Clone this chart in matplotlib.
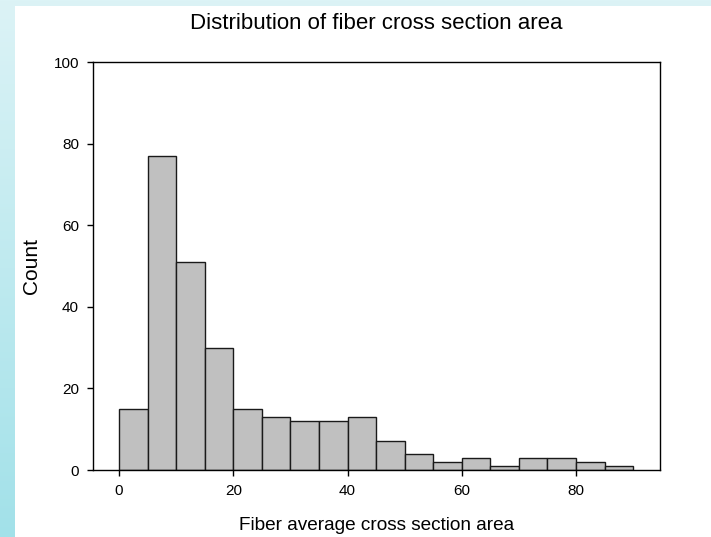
import numpy as np
import matplotlib.pyplot as plt
from matplotlib.patches import Rectangle
from matplotlib.colors import LinearSegmentedColormap

plt.rcParams['font.family'] = ['Liberation Sans', 'DejaVu Sans']

bin_edges = np.arange(0, 95, 5)
counts = [15, 77, 51, 30, 15, 13, 12, 12, 13, 7, 4, 2, 3, 1, 3, 3, 2, 1]

fig = plt.figure(figsize=(7.11, 5.37), dpi=100)

# light blue gradient backdrop with a white page on top
bg = fig.add_axes([0, 0, 1, 1], zorder=-10)
grad = np.linspace(0, 1, 256).reshape(-1, 1)
cmap = LinearSegmentedColormap.from_list('bg', ['#dcf3f6', '#a2e1e9'])
bg.imshow(grad, aspect='auto', cmap=cmap, extent=[0, 1, 0, 1], origin='upper')
bg.add_patch(Rectangle((15 / 711, 0), 1, 1 - 6 / 537, transform=bg.transAxes,
                       facecolor='white', edgecolor='none'))
bg.set_xlim(0, 1)
bg.set_ylim(0, 1)
bg.axis('off')

ax = fig.add_axes([93 / 711, 1 - 470 / 537, 567 / 711, 408 / 537])
ax.set_facecolor('none')
ax.bar(bin_edges[:-1], counts, width=5, align='edge',
       color='#c0c0c0', edgecolor='#1a1a1a', linewidth=1.0)

ax.set_xlim(-4.55, 94.7)
ax.set_ylim(0, 100)
ax.set_xticks([0, 20, 40, 60, 80])
ax.set_yticks([0, 20, 40, 60, 80, 100])
ax.tick_params(direction='out', length=4, width=1, labelsize=11, pad=6)
for spine in ax.spines.values():
    spine.set_edgecolor('black')
    spine.set_linewidth(1.0)

ax.set_title('Distribution of fiber cross section area', fontsize=16,
             pad=24)
ax.set_xlabel('Fiber average cross section area', fontsize=13.7, labelpad=14)
ax.set_ylabel('Count', fontsize=15, labelpad=9)

plt.savefig('out.png', dpi=100)
